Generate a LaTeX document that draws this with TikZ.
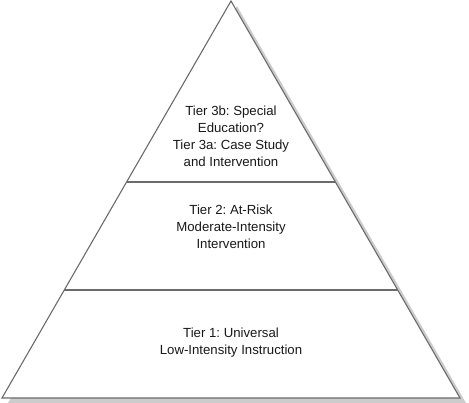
\documentclass[tikz,border=0pt]{standalone}
\usepackage{fontspec}
\setmainfont{Liberation Sans}
\usetikzlibrary{calc}
\frenchspacing
\begin{document}
\begin{tikzpicture}[x=1pt,y=1pt,
  edge/.style={draw=black!58,line width=1.1pt,line join=miter},
  shade/.style={fill=black!20,draw=none},
  tiertext/.style={align=center,font=\fontsize{13.2}{17}\selectfont\frenchspacing,text=black!90,inner sep=0pt}]
\useasboundingbox (0,0) rectangle (469,403);
\coordinate (A) at (231,402);
\coordinate (L) at (2,5);
\coordinate (R) at (460,5);
% shadow
\fill[shade] ($(A)+(6,-5)$) -- ($(L)+(6,-5)$) -- ($(R)+(6,-5)$) -- cycle;
\fill[white] (A) -- (L) -- (R) -- cycle;
% dividers
\coordinate (d1l) at ($(A)!0.456!(L)$);
\coordinate (d1r) at ($(A)!0.456!(R)$);
\coordinate (d2l) at ($(A)!0.728!(L)$);
\coordinate (d2r) at ($(A)!0.728!(R)$);
\draw[edge] (d1l) -- (d1r);
\draw[edge] (d2l) -- (d2r);
\draw[edge] (A) -- (L) -- (R) -- cycle;
\node[tiertext] (t3) at (231,267) {Tier 3b: Special\\Education?\\Tier 3a: Case Study\\and Intervention};
\node[tiertext] (t2) at (231,176) {Tier 2: At-Risk\\Moderate-Intensity\\Intervention};
\node[tiertext] (t1) at (231,60) {Tier 1: Universal\\Low-Intensity Instruction};
\end{tikzpicture}
\end{document}
